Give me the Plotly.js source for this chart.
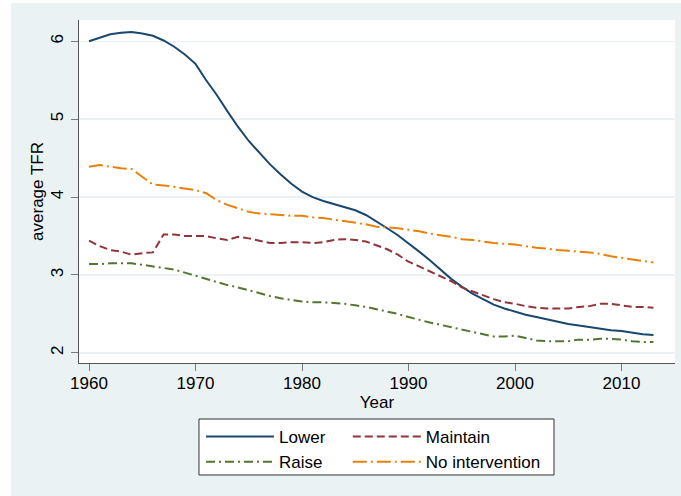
<!DOCTYPE html>
<html>
<head>
<meta charset="utf-8">
<script src="https://cdn.plot.ly/plotly-3.0.1.min.js"></script>
<style>
html, body { margin: 0; padding: 0; background: #ffffff; }
#chart { position: absolute; left: 11px; top: 3px; width: 670px; height: 493px; }
</style>
</head>
<body>
<div id="chart"></div>
<script>
var years = [];
for (var y = 1960; y <= 2013; y++) years.push(y);

var lowerTFR = [6.00, 6.05, 6.09, 6.11, 6.12, 6.10, 6.07, 6.01, 5.93, 5.83,
  5.71, 5.50, 5.31, 5.10, 4.90, 4.72, 4.57, 4.42, 4.29, 4.17,
  4.07, 4.00, 3.95, 3.91, 3.87, 3.83, 3.77, 3.69, 3.60, 3.51,
  3.41, 3.30, 3.19, 3.07, 2.95, 2.85, 2.76, 2.69, 2.62, 2.57,
  2.53, 2.49, 2.46, 2.43, 2.40, 2.37, 2.35, 2.33, 2.31, 2.29,
  2.28, 2.26, 2.24, 2.23];

var maintainTFR = [3.44, 3.37, 3.32, 3.30, 3.26, 3.28, 3.29, 3.52, 3.52, 3.50,
  3.50, 3.50, 3.47, 3.45, 3.49, 3.47, 3.44, 3.41, 3.41, 3.42,
  3.42, 3.41, 3.42, 3.45, 3.46, 3.45, 3.43, 3.38, 3.33, 3.26,
  3.17, 3.11, 3.05, 2.99, 2.92, 2.84, 2.79, 2.73, 2.69, 2.65,
  2.63, 2.60, 2.58, 2.57, 2.57, 2.57, 2.59, 2.60, 2.63, 2.63,
  2.61, 2.59, 2.59, 2.58];

var raiseTFR = [3.14, 3.14, 3.15, 3.15, 3.15, 3.13, 3.11, 3.09, 3.07, 3.03,
  2.99, 2.95, 2.90, 2.87, 2.84, 2.80, 2.76, 2.73, 2.70, 2.68,
  2.66, 2.65, 2.65, 2.64, 2.63, 2.61, 2.59, 2.56, 2.53, 2.50,
  2.46, 2.42, 2.39, 2.36, 2.33, 2.30, 2.27, 2.24, 2.21, 2.21,
  2.22, 2.19, 2.16, 2.15, 2.15, 2.15, 2.17, 2.17, 2.18, 2.18,
  2.17, 2.15, 2.14, 2.14];

var noIntTFR = [4.39, 4.41, 4.39, 4.37, 4.36, 4.26, 4.16, 4.15, 4.13, 4.11,
  4.09, 4.05, 3.96, 3.90, 3.86, 3.81, 3.79, 3.78, 3.77, 3.76,
  3.76, 3.74, 3.73, 3.71, 3.69, 3.67, 3.65, 3.62, 3.61, 3.60,
  3.58, 3.56, 3.53, 3.51, 3.49, 3.46, 3.45, 3.43, 3.41, 3.40,
  3.39, 3.37, 3.35, 3.34, 3.32, 3.31, 3.30, 3.29, 3.27, 3.24,
  3.22, 3.20, 3.18, 3.16];

var yTicks = [2, 3, 4, 5, 6];
var xTicks = [1960, 1970, 1980, 1990, 2000, 2010];

var FONT = '"Liberation Sans", Arial, Helvetica, sans-serif';
var FS = 17;

var traces = [
  { x: years, y: lowerTFR, name: 'Lower', type: 'scatter', mode: 'lines',
    line: { color: '#1a476f', width: 2 }, legend: 'legend' },
  { x: years, y: maintainTFR, name: 'Maintain', type: 'scatter', mode: 'lines',
    line: { color: '#90353b', width: 2, dash: '8px,4px' }, legend: 'legend2' },
  { x: years, y: raiseTFR, name: 'Raise', type: 'scatter', mode: 'lines',
    line: { color: '#55752f', width: 2, dash: '9px,4px,2px,4px' }, legend: 'legend' },
  { x: years, y: noIntTFR, name: 'No intervention', type: 'scatter', mode: 'lines',
    line: { color: '#e8800a', width: 2, dash: '14px,4px,2px,4px' }, legend: 'legend2' }
];

var layout = {
  width: 670, height: 493,
  margin: { l: 68, r: 6, t: 17, b: 133, autoexpand: false },
  paper_bgcolor: '#eaf2f3',
  plot_bgcolor: '#ffffff',
  font: { family: FONT, size: FS, color: '#000000' },
  showlegend: true,
  xaxis: {
    range: [1959.06, 2015.02],
    tickvals: xTicks,
    ticktext: xTicks.map(String),
    ticks: 'outside', ticklen: 7, tickwidth: 1, tickcolor: '#7a7a7a',
    ticklabelstandoff: -2,
    showline: true, linecolor: '#555555', linewidth: 1,
    showgrid: false, zeroline: false,
    tickfont: { family: FONT, size: FS, color: '#000000' },
    title: { text: 'Year', font: { family: FONT, size: FS, color: '#000000' }, standoff: 0 }
  },
  yaxis: {
    range: [1.870, 6.273],
    tickvals: yTicks,
    ticktext: yTicks.map(String),
    tickangle: -90,
    ticks: 'outside', ticklen: 7, tickwidth: 1, tickcolor: '#7a7a7a',
    ticklabelstandoff: 1,
    showline: true, linecolor: '#555555', linewidth: 1,
    showgrid: true, gridcolor: '#eaf2f3', gridwidth: 1.5, zeroline: false,
    tickfont: { family: FONT, size: FS, color: '#000000' },
    title: { text: 'average TFR', font: { family: FONT, size: FS, color: '#000000' }, standoff: 0 }
  },
  shapes: [
    { type: 'rect', xref: 'paper', yref: 'paper',
      x0: 0.2013, x1: 0.797, y0: -0.3265, y1: -0.1633,
      fillcolor: '#ffffff', line: { color: '#333333', width: 1 }, layer: 'below' }
  ],
  legend: {
    x: 0.2047, y: -0.1633, xanchor: 'left', yanchor: 'top',
    orientation: 'v', bgcolor: 'rgba(0,0,0,0)', borderwidth: 0,
    font: { family: FONT, size: FS, color: '#000000' }, itemwidth: 68
  },
  legend2: {
    x: 0.451, y: -0.1633, xanchor: 'left', yanchor: 'top',
    orientation: 'v', bgcolor: 'rgba(0,0,0,0)', borderwidth: 0,
    font: { family: FONT, size: FS, color: '#000000' }, itemwidth: 68
  }
};

Plotly.newPlot('chart', traces, layout, { displayModeBar: false, staticPlot: true });
</script>
</body>
</html>
